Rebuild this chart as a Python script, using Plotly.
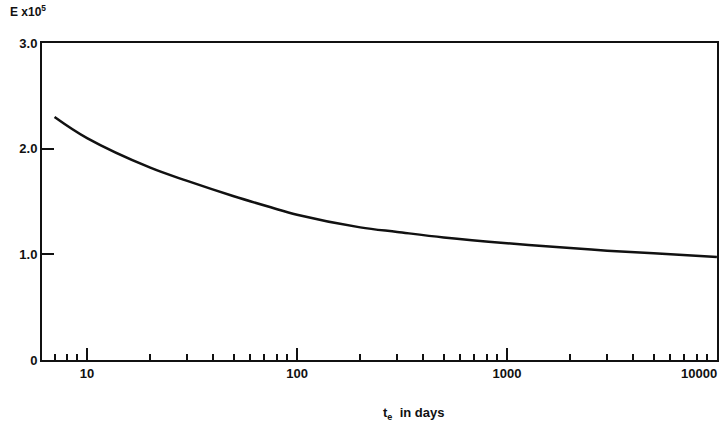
import plotly.graph_objects as go
import math

# Data
t_days = [7, 10, 20, 30, 50, 75, 100, 200, 300, 500, 1000, 2000, 3000, 5000, 10000]
E_x1e5 = [2.30, 2.10, 1.82, 1.695, 1.55, 1.445, 1.375, 1.255, 1.212, 1.16, 1.105, 1.06, 1.035, 1.01, 0.975]

x_tickvals = [10, 100, 1000, 10000]
x_ticktext = ["10", "100", "1000", ""]
last_x_label = "10000"
y_tickvals = [0, 1, 2, 3]
y_ticktext = ["0", "1.0", "2.0", "3.0"]

font_family = "Liberation Sans, Arial, sans-serif"
tick_font = dict(size=13, weight="bold", family=font_family, color="#111111")

fig = go.Figure()
fig.add_trace(go.Scatter(
    x=t_days, y=E_x1e5, mode="lines",
    line=dict(color="#111111", width=2.5, shape="spline", smoothing=1.0),
    showlegend=False, hoverinfo="skip",
))

fig.update_layout(
    width=720, height=430,
    margin=dict(l=42, r=3, t=43, b=70),
    paper_bgcolor="white", plot_bgcolor="white",
    font=dict(family=font_family, color="#111111"),
    xaxis=dict(
        type="log", range=[math.log10(6.1), 4.0005],
        showline=True, linecolor="#111111", linewidth=2, mirror=True,
        showgrid=False, zeroline=False,
        tickvals=x_tickvals, ticktext=x_ticktext,
        ticks="inside", ticklen=12, tickwidth=2, tickcolor="#111111",
        tickfont=tick_font,
        minor=dict(ticks="inside", ticklen=6, tickwidth=1.5, tickcolor="#111111",
                   dtick="D1", showgrid=False),
        automargin=False,
    ),
    yaxis=dict(
        range=[0, 3.0],
        showline=True, linecolor="#111111", linewidth=2, mirror=True,
        showgrid=False, zeroline=False,
        tickvals=y_tickvals, ticktext=y_ticktext,
        ticks="inside", ticklen=12, tickwidth=2, tickcolor="#111111",
        tickfont=tick_font,
        automargin=False,
    ),
    annotations=[
        dict(text=last_x_label, xref="x", yref="paper",
             x=math.log10(x_tickvals[-1]), y=0, xanchor="right", yanchor="top",
             xshift=2, yshift=-4, showarrow=False, font=tick_font),
        dict(text="E x10<sup>5</sup>", xref="paper", yref="paper",
             x=-0.05, y=1.07, xanchor="left", yanchor="bottom", showarrow=False,
             font=dict(size=12, weight="bold", family=font_family, color="#111111")),
        dict(text="t<sub>e</sub>  in days", xref="paper", yref="paper",
             x=0.55, y=-0.135, xanchor="center", yanchor="top", showarrow=False,
             font=dict(size=13, weight="bold", family=font_family, color="#111111")),
    ],
)

fig.write_html("out.html",
               config={"displayModeBar": False},
               post_script="document.body.style.margin='0';document.body.style.overflow='hidden';")
